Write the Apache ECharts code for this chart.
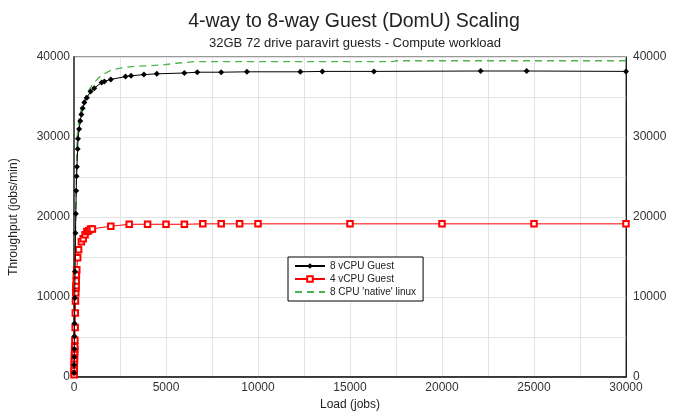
<!DOCTYPE html>
<html><head><meta charset="utf-8">
<script src="https://cdn.jsdelivr.net/npm/echarts@6/dist/echarts.min.js"></script>
<style>html,body{margin:0;padding:0;background:#fff}#c{width:678px;height:416px}</style>
</head><body><div id="c"></div>
<script>
const titleText = "4-way to 8-way Guest (DomU) Scaling";
const subtitleText = "32GB 72 drive paravirt guests - Compute workload";
const seriesNames = ["8 vCPU Guest", "4 vCPU Guest", "8 CPU 'native' linux"];
const xTicks = [0, 5000, 10000, 15000, 20000, 25000, 30000];
const yTicks = [0, 10000, 20000, 30000, 40000];

const guest8 = [[4,500],[8,1500],[12,2500],[16,3500],[20,5100],[28,6700],[40,9900],[56,13200],[80,18000],[100,20400],[120,23300],[140,25100],[160,26300],[200,28500],[217,29800],[280,31000],[340,32000],[400,32800],[470,33600],[560,34300],[700,34900],[900,35700],[1100,36100],[1500,36800],[1650,36950],[2000,37200],[2800,37550],[3100,37650],[3800,37800],[4500,37900],[6000,38000],[6700,38100],[8000,38100],[9400,38150],[12300,38150],[13500,38200],[16300,38200],[22100,38250],[24600,38250],[30000,38200]];
const guest4 = [[4,300],[8,700],[12,1100],[16,1500],[20,1900],[24,2300],[28,2700],[32,3100],[36,3500],[40,3800],[48,4600],[64,6200],[72,8000],[80,9500],[96,10500],[100,11100],[110,11400],[120,12000],[128,12800],[150,13400],[200,14900],[250,15900],[400,16900],[500,17300],[600,17800],[700,18200],[800,18300],[900,18500],[1000,18500],[2000,18850],[3000,19100],[4000,19100],[5000,19100],[6000,19100],[7000,19150],[8000,19150],[9000,19150],[10000,19150],[15000,19150],[20000,19150],[25000,19150],[30000,19150]];
const native8 = [[0,0],[20,5000],[50,12000],[80,18000],[120,23500],[150,28000],[162,29700],[250,32000],[433,33850],[704,35500],[1065,36740],[1516,37770],[2058,38390],[2509,38600],[3141,38800],[4765,39000],[5578,39220],[6552,39420],[10000,39420],[17300,39420],[17500,39530],[30000,39530]];

const font = "'Liberation Sans', Arial, sans-serif";
const chart = echarts.init(document.getElementById('c'), null, {renderer:'canvas'});
chart.setOption({
  animation:false,
  backgroundColor:'#fff',
  title:[
    {text:titleText, left:349, top:7, textAlign:'center', textStyle:{fontFamily:font, fontSize:19.5, fontWeight:'normal', color:'#222'}},
    {text:subtitleText, left:350, top:32, textAlign:'center', textStyle:{fontFamily:font, fontSize:13, fontWeight:'normal', color:'#222'}}
  ],
  legend:{
    orient:'vertical', left:288, top:257, itemWidth:30, itemHeight:7, itemGap:3,
    padding:[4,7,4,6], borderColor:'#000', borderWidth:1, backgroundColor:'#fff',
    textStyle:{fontFamily:font, fontSize:10, color:'#222'},
    data:[seriesNames[0], seriesNames[1], {name:seriesNames[2], itemStyle:{opacity:0}}]
  },
  grid:{left:72, right:52, top:57, bottom:36, show:true, borderColor:'#333', borderWidth:1},
  xAxis:{type:'value', min:0, max:30000, interval:2500,
    name:'Load (jobs)', nameLocation:'middle', nameGap:20,
    nameTextStyle:{fontFamily:font, fontSize:12, color:'#222'},
    axisLine:{show:true, onZero:false, lineStyle:{color:'#111', width:1.5}},
    axisTick:{show:false},
    axisLabel:{fontFamily:font, fontSize:12, color:'#333', margin:5, showMaxLabel:true,
      formatter:v => xTicks.includes(v) ? String(v) : ''},
    splitLine:{show:true, lineStyle:{color:'#e3e3e3', width:1}}
  },
  yAxis:[
    {type:'value', min:0, max:40000, interval:5000,
      name:'Throughput (jobs/min)', nameLocation:'middle', nameGap:54,
      nameTextStyle:{fontFamily:font, fontSize:12, color:'#222'},
      axisLine:{show:true, lineStyle:{color:'#555', width:2}},
      axisTick:{show:false},
      axisLabel:{fontFamily:font, fontSize:12, color:'#333', margin:4,
        formatter:v => yTicks.includes(v) ? String(v) : ''},
      splitLine:{show:true, lineStyle:{color:'#e3e3e3', width:1}}
    },
    {type:'value', min:0, max:40000, interval:5000, position:'right',
      axisLine:{show:true, lineStyle:{color:'#222', width:1}},
      axisTick:{show:false},
      axisLabel:{fontFamily:font, fontSize:12, color:'#333', margin:7,
        formatter:v => yTicks.includes(v) ? String(v) : ''},
      splitLine:{show:false}
    }
  ],
  series:[
    {name:seriesNames[2], type:'line', data:native8, symbol:'none', z:1,
      lineStyle:{color:'#4db34d', width:1.3, type:[7,5]}, itemStyle:{color:'#4db34d'}},
    {name:seriesNames[1], type:'line', data:guest4, symbol:'emptyRect', symbolSize:5.5, z:2,
      lineStyle:{color:'#ff0000', width:1}, itemStyle:{color:'#ff0000', borderColor:'#ff0000', borderWidth:1}},
    {name:seriesNames[0], type:'line', data:guest8, symbol:'diamond', symbolSize:6, z:3,
      lineStyle:{color:'#000', width:1}, itemStyle:{color:'#000'}}
  ]
});
</script></body></html>
